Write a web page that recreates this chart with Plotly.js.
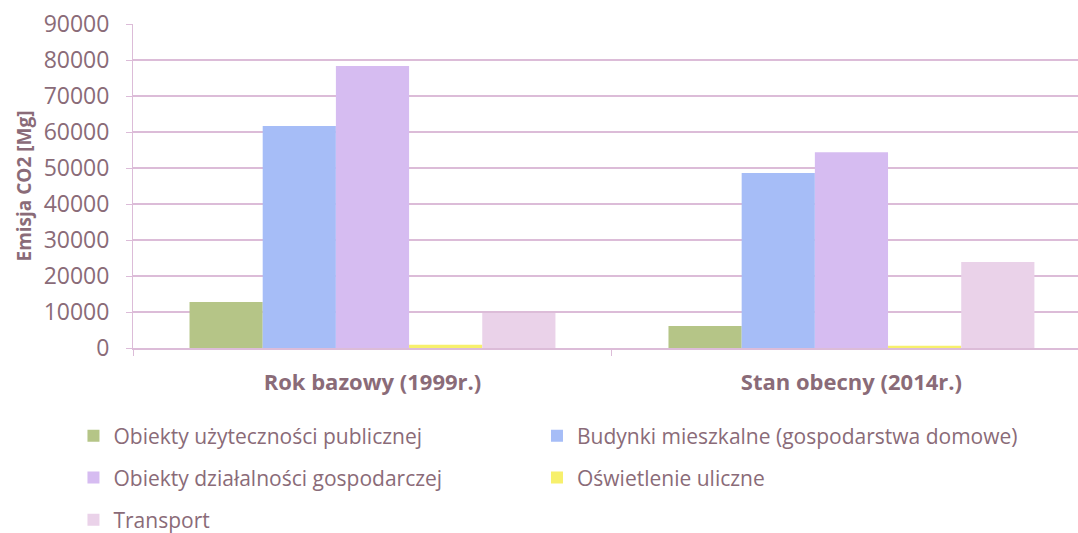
<!DOCTYPE html>
<html>
<head>
<meta charset="utf-8">
<script src="https://cdn.plot.ly/plotly-3.0.1.min.js"></script>
<style>
  body { margin: 0; background: #fff; }
  #chart { width: 1078px; height: 533px; }
</style>
</head>
<body>
<div id="chart"></div>
<script>
// chart data
const categories = ['Rok bazowy (1999r.)', 'Stan obecny (2014r.)'];
const seriesNames = [
    'Obiekty użyteczności publicznej',
    'Budynki mieszkalne (gospodarstwa domowe)',
    'Obiekty działalności gospodarczej',
    'Oświetlenie uliczne',
    'Transport'
];
const publiczne = [12800, 6100];
const mieszkalne = [61700, 48600];
const gospodarcze = [78300, 54400];
const oswietlenie = [900, 600];
const transport = [9700, 23900];

const seriesValues = [publiczne, mieszkalne, gospodarcze, oswietlenie, transport];
const colors = ['#b5c587', '#a6bdf7', '#d6bcf1', '#f7f06c', '#ead2e9'];

const textColor = '#8a6b78';
const gridColor = '#dcbcd8';

// legend slots: 2 columns, 3 rows (paper coords)
const legendCols = [-0.063, 0.4275];
const legendRows = [-0.272, -0.401, -0.531];

let data = [];
let legends = {};
for (let i = 0; i < seriesNames.length; i++) {
    let key = i == 0 ? 'legend' : 'legend' + (i + 1);
    data.push({
        type: 'bar',
        name: seriesNames[i],
        x: categories,
        y: seriesValues[i],
        marker: {color: colors[i]},
        legend: key,
        showlegend: true,
        hoverinfo: 'y+name'
    });
    legends[key] = {
        orientation: 'h',
        x: legendCols[i % 2],
        xanchor: 'left',
        y: legendRows[Math.floor(i / 2)],
        yanchor: 'middle',
        itemwidth: 30,
        bgcolor: 'rgba(0,0,0,0)',
        font: {family: 'Open Sans, sans-serif', size: 21, color: textColor}
    };
}

const layout = Object.assign({
    width: 1078,
    height: 533,
    showlegend: true,
    margin: {l: 133, r: 0, t: 24, b: 185, autoexpand: false},
    paper_bgcolor: '#fff',
    plot_bgcolor: '#fff',
    barmode: 'group',
    bargap: 0.236,
    bargroupgap: 0,
    font: {family: 'Open Sans, sans-serif', color: textColor},
    xaxis: {
        type: 'category',
        range: [-0.5, 1.473],
        tickson: 'boundaries',
        ticks: 'outside',
        ticklen: 6,
        tickcolor: gridColor,
        showline: true,
        linecolor: gridColor,
        linewidth: 1.5,
        ticklabelstandoff: 14,
        tickfont: {family: 'Open Sans, sans-serif', size: 22, color: textColor, weight: 'bold'},
        fixedrange: true
    },
    yaxis: {
        range: [0, 90000],
        dtick: 10000,
        tickformat: 'd',
        ticks: 'outside',
        ticklen: 6,
        tickcolor: gridColor,
        showline: true,
        linecolor: gridColor,
        gridcolor: gridColor,
        gridwidth: 1.5,
        zeroline: false,
        ticklabelstandoff: 12,
        tickfont: {family: 'Open Sans, sans-serif', size: 23, color: textColor},
        title: {
            text: 'Emisja CO2 [Mg]',
            standoff: 6,
            font: {family: 'Open Sans, sans-serif', size: 19, color: textColor, weight: 'bold'}
        },
        fixedrange: true
    }
}, legends);

Plotly.newPlot('chart', data, layout, {displayModeBar: false, staticPlot: true});
</script>
</body>
</html>
